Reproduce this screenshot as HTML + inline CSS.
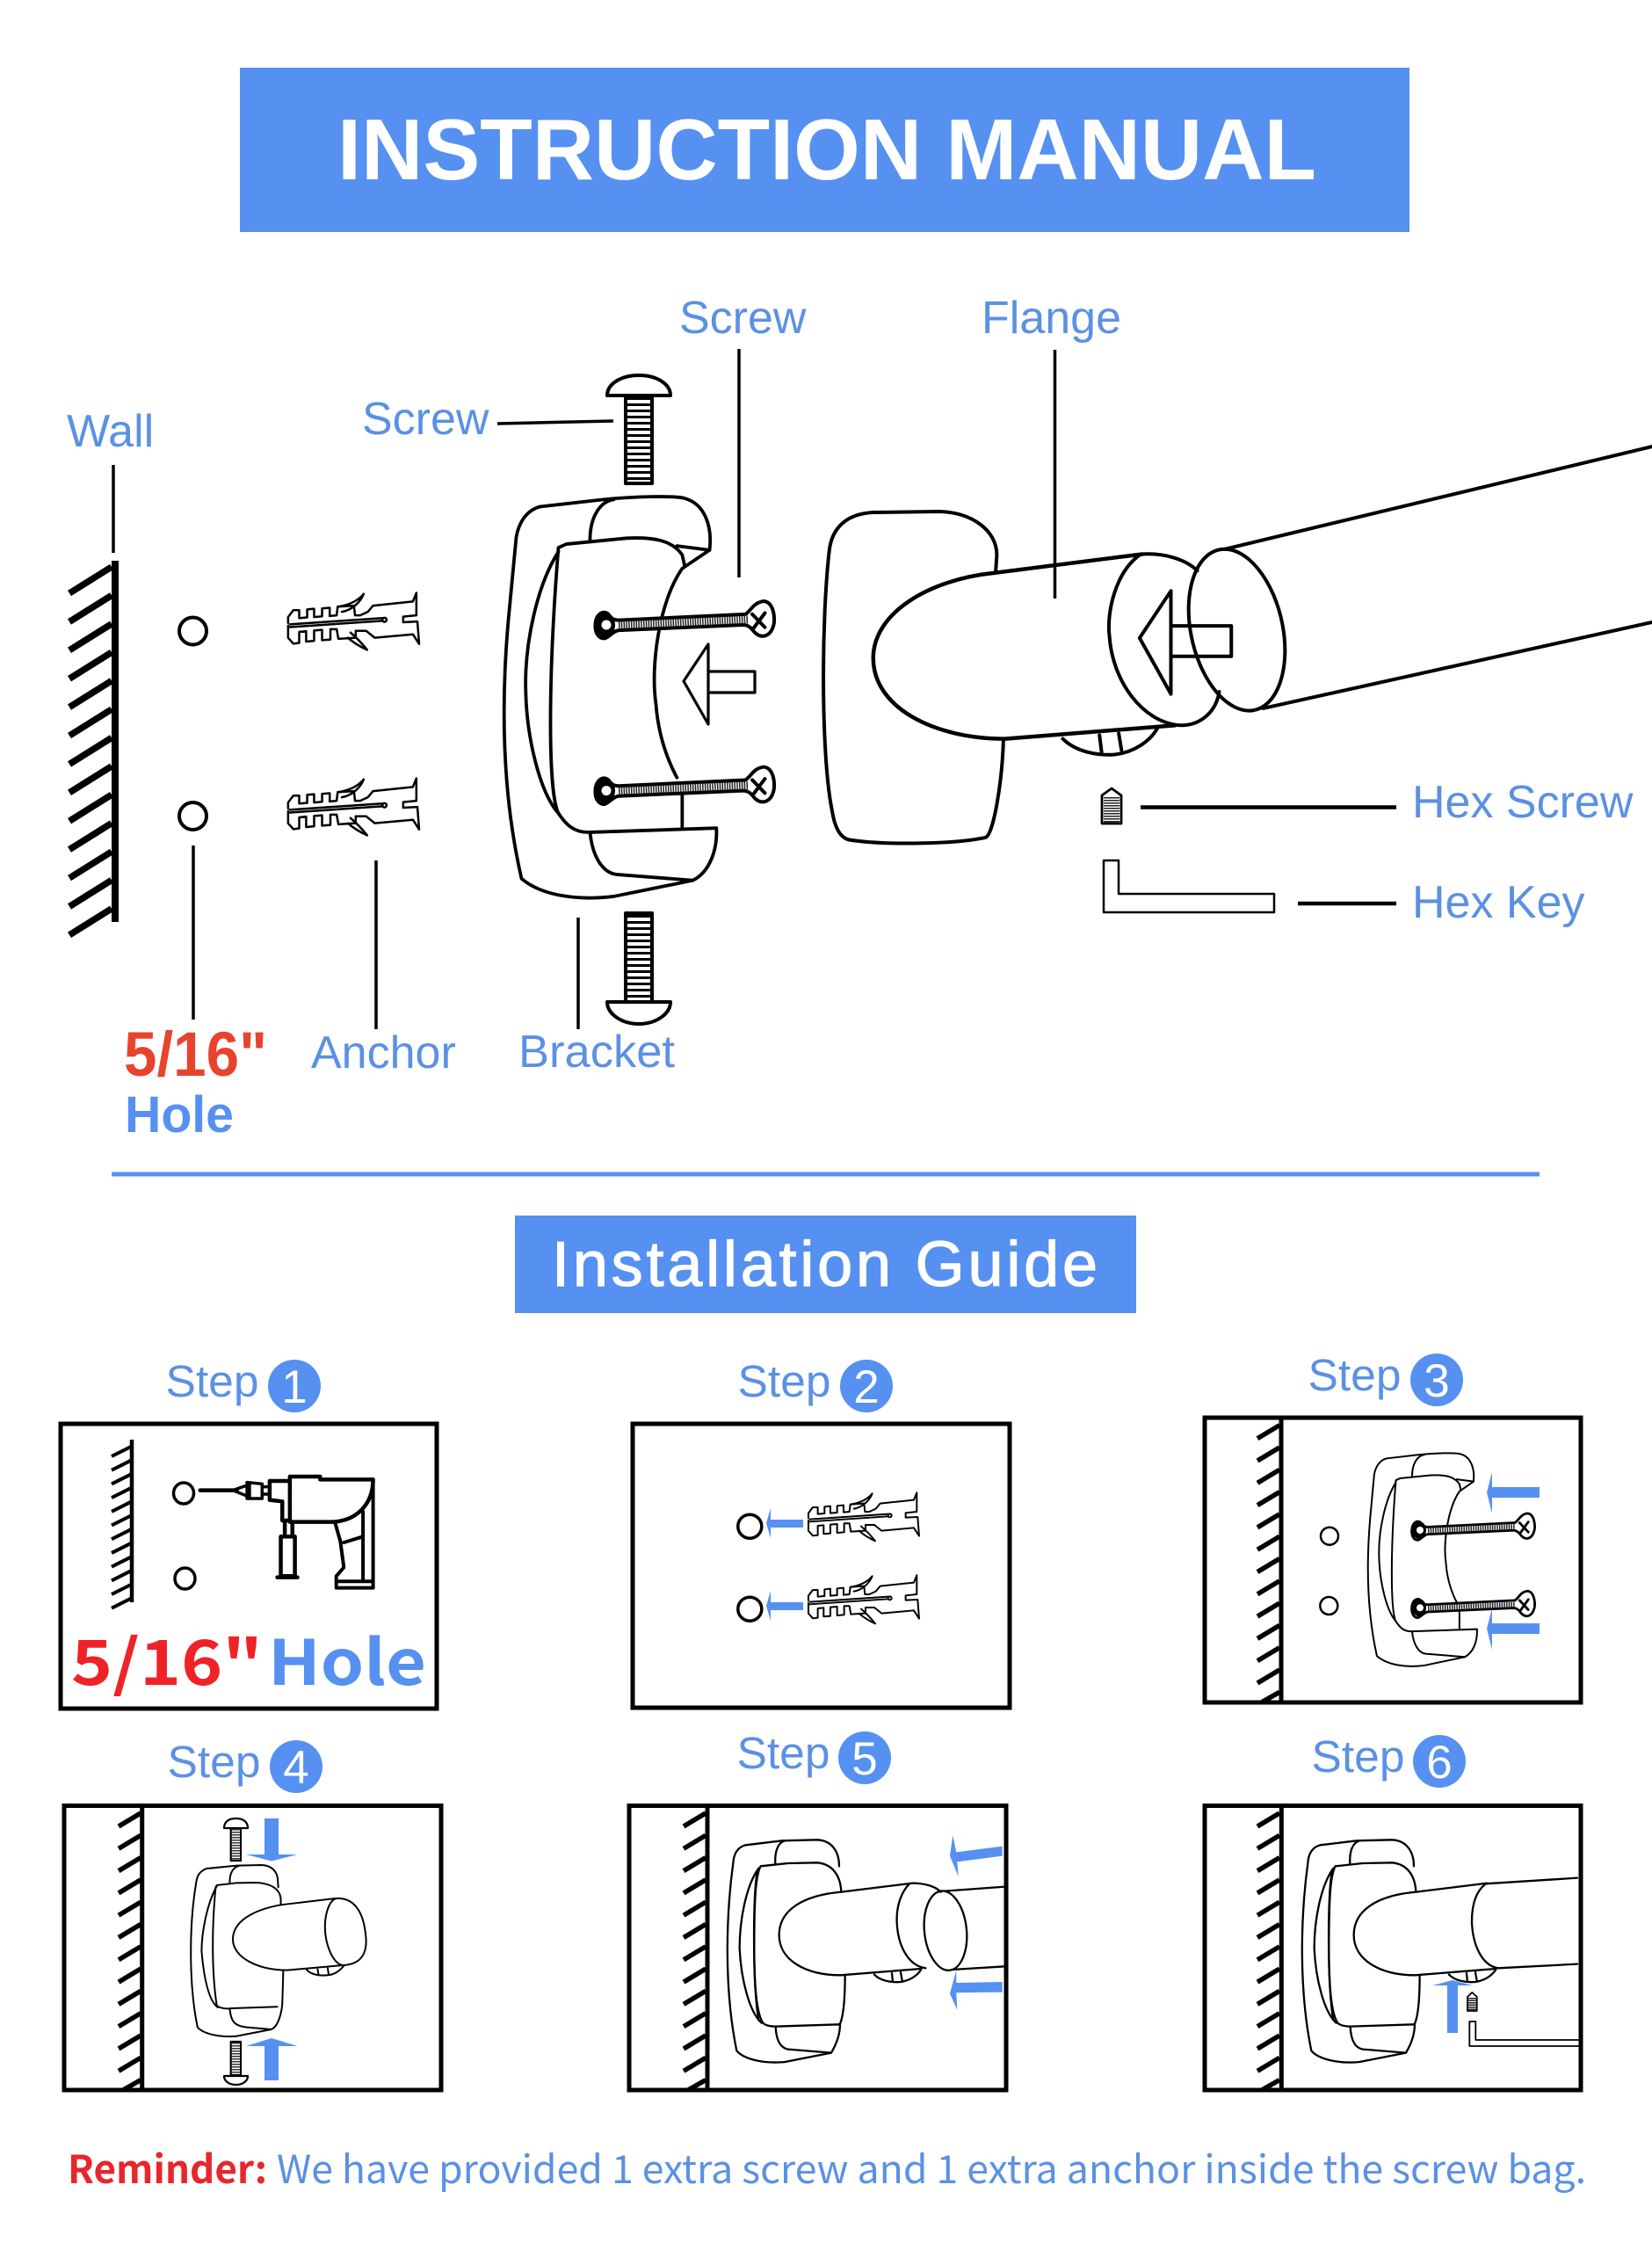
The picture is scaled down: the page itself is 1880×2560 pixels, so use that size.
<!DOCTYPE html>
<html lang="en"><head><meta charset="utf-8"><title>Instruction Manual</title>
<style>
html,body{margin:0;padding:0;background:#fff}
svg{display:block}
svg *{vector-effect:non-scaling-stroke}
.l{font-family:"Liberation Sans",sans-serif;font-size:52px;fill:#5b91e3}
.s{font-family:"Liberation Sans",sans-serif;font-size:51px;fill:#5b91e3}
.d{font-family:"Liberation Sans",sans-serif;font-size:53px;fill:#fff;text-anchor:middle}
.n{font-family:"Liberation Sans","Noto Sans CJK SC",sans-serif}
.c{font-family:"Noto Sans CJK SC","Liberation Sans",sans-serif}
.k{fill:none;stroke:#000;stroke-linecap:round;stroke-linejoin:round}
.b{fill:#5690f1;stroke:none}
</style></head><body>
<svg xmlns="http://www.w3.org/2000/svg" width="1880" height="2560" viewBox="0 0 1880 2560">
<defs>
<g id="hatch"><path d="M0 10L-25 25M0 35.300L-25 50.300M0 60.600L-25 75.600M0 85.900L-25 100.900M0 111.200L-25 126.200M0 136.500L-25 151.500M0 161.800L-25 176.800M0 187.100L-25 202.100M0 212.400L-25 227.400M0 237.700L-25 252.700M0 263L-25 278M0 288.300L-25 303.300M0 313.600L-20 325"/></g>
<g id="bracket">
<path d="M1025 409L1145 397C1200 392 1280 390 1300 395C1340 405 1352 445 1347 482L1295 513C1250 570 1235 680 1245 740C1250 800 1270 840 1285 865"/>
<path d="M1295 895L1295 950"/>
<path d="M1025 409C1000 415 985 435 980 460L965 600C950 750 955 900 990 1035C1030 1065 1100 1072 1165 1065L1315 1038C1345 1025 1362 990 1360 950L1120 957C1090 958 1075 945 1060 925C1040 890 1040 700 1060 478L1075 472L1190 462C1240 460 1275 465 1295 490L1300 510"/>
<path d="M1060 485C1020 540 995 640 998 720C1000 800 1025 890 1060 925"/>
<path d="M1120 957C1125 1000 1145 1025 1170 1028L1315 1038M1120 465C1120 425 1140 400 1165 397M1285 475L1347 482"/>
</g>
<g id="hscrew">
<path fill="#fff" d="M1130 610C1130 590 1145 582 1155 590C1160 597 1165 600 1175 600L1415 590C1425 585 1430 570 1450 568C1470 570 1472 600 1468 610C1462 628 1445 632 1432 620C1425 612 1420 608 1410 608L1175 617C1165 618 1160 625 1150 630C1140 633 1130 625 1130 610Z"/>
<path d="M1428 590L1452 612M1452 588L1430 614"/>
</g>
<g id="anchor">
<path d="M660 622L660 605L675 585L692 585L692 608L715 606L715 583L735 581L735 605L758 603L758 580L780 578L780 602L800 600L803 575L850 572L853 600L868 600L890 590L905 572L1020 560L1030 535L1030 600L992 604L992 620L1033 618L1038 683L1020 655L910 665L885 645"/>
<path d="M660 630L660 665L675 682L692 680L692 648L712 646L712 676L735 674L735 644L758 642L758 672L782 670L782 640L800 640L805 668L855 665L855 645L885 645"/>
<path d="M665 634L932 616M665 626L932 608"/>
<circle cx="938" cy="613" r="6"/>
<path d="M805 575C835 570 860 560 878 538C870 560 845 585 815 590M840 650C858 665 872 680 888 700C870 692 850 680 832 665"/>
</g>
<g id="front">
<path d="M445 418L570 403L690 400C740 402 765 440 765 490"/>
<path d="M445 418C420 425 405 445 403 480C380 650 370 900 415 1120C440 1150 510 1165 580 1158L738 1127C760 1090 768 1060 768 1030"/>
<path d="M497 490L590 480L690 478C740 482 770 520 772 578"/>
<path d="M490 497C445 560 425 680 425 770C430 880 460 990 500 1025"/>
<path d="M497 490C480 520 475 600 475 770C475 880 480 990 505 1025C515 1035 535 1037 550 1037L768 1030"/>
<path d="M485 510C470 600 470 900 490 1015"/>
<path d="M547 480C545 440 555 410 580 403M548 1037C550 1085 565 1110 590 1115L738 1127M785 862C785 950 780 1000 768 1028"/>
<path d="M772 578C640 590 560 640 560 725C560 810 650 862 770 862L1045 840M772 578L1015 548"/>
<path d="M885 860C905 880 940 888 975 885C1005 880 1030 865 1045 843M945 855L948 885M975 852L980 880"/>
</g>
</defs>

<!-- header -->
<rect x="273" y="77" width="1331" height="187" fill="#5690f1"/>
<text x="384" y="204" class="n" font-size="98" font-weight="700" fill="#fff" textLength="1114" lengthAdjust="spacingAndGlyphs">INSTRUCTION MANUAL</text>

<!-- main labels -->
<text x="76" y="508" class="l">Wall</text>
<text x="412" y="494" class="l">Screw</text>
<text x="773" y="379" class="l">Screw</text>
<text x="1117" y="379" class="l">Flange</text>
<text x="1607" y="930" class="l">Hex Screw</text>
<text x="1607" y="1044" class="l">Hex Key</text>
<text x="354" y="1215" class="l">Anchor</text>
<text x="590" y="1214" class="l" textLength="178" lengthAdjust="spacingAndGlyphs">Bracket</text>
<text x="141" y="1224" class="n" font-size="71" font-weight="700" fill="#e8432c" textLength="163" lengthAdjust="spacingAndGlyphs">5/16"</text>
<text x="142" y="1288" class="n" font-size="58" font-weight="700" fill="#5690f1" textLength="124" lengthAdjust="spacingAndGlyphs">Hole</text>

<!-- leaders -->
<g stroke="#000" stroke-width="3.500" fill="none">
<path d="M129 529V629M220 962V1160M428 979V1171M658 1044V1171M566 482L698 479M841 397V657M1200.500 398V681"/>
<path stroke-width="4.500" d="M1298 918.500H1589M1477 1028H1589"/>
</g>

<!-- wall -->
<path d="M131 638V1049" stroke="#000" stroke-width="8" fill="none"/>
<g stroke="#000" stroke-width="7.500" fill="none">
<path d="M127 645L79 675M127 677.400L79 707.400M127 709.800L79 739.800M127 742.200L79 772.200M127 774.600L79 804.600M127 807L79 837M127 839.400L79 869.400M127 871.800L79 901.800M127 904.200L79 934.200M127 936.600L79 966.600M127 969L79 999M127 1001.400L79 1031.400M127 1033.800L79 1063.800"/>
</g>
<g class="k" stroke-width="4"><circle cx="219.500" cy="718" r="15.500"/><circle cx="219.500" cy="928.500" r="15.500"/></g>

<!-- main anchors -->
<g class="k" stroke-width="2.500">
<use href="#anchor" transform="translate(67.500,464.300) scale(.3945,.393)"/>
<use href="#anchor" transform="translate(67.500,675.300) scale(.3945,.393)"/>
</g>

<!-- main vertical screws -->
<g class="k" stroke-width="4">
<path d="M691 450C691 436 708 427 727 427C746 427 763 436 763 450Z"/>
<path d="M712 450V550H742V450"/>
<path d="M712 1039H742V1140H712ZM691 1140C691 1154 708 1165 727 1165C746 1165 763 1154 763 1140Z"/>
</g>
<line x1="727" y1="452" x2="727" y2="549" stroke="#000" stroke-width="28" stroke-dasharray="3 4"/>
<line x1="727" y1="1041" x2="727" y2="1139" stroke="#000" stroke-width="28" stroke-dasharray="3 4"/>

<!-- main bracket -->
<g class="k" stroke-width="3.800"><use href="#bracket" transform="translate(0,300) scale(.5995,.676)"/></g>
<g class="k" stroke-width="4"><use href="#hscrew" transform="translate(0,300) scale(.5995,.676)"/><use href="#hscrew" transform="translate(0,488.600) scale(.5995,.676)"/></g>
<g stroke="#222" stroke-width="9" stroke-dasharray="1.500 1.300" fill="none">
<path d="M704 711L852 705M704 899.600L852 893.600"/>
</g>
<g>
<ellipse cx="689" cy="711" rx="11" ry="14" fill="#000"/><ellipse cx="690" cy="711" rx="5.500" ry="5.500" fill="#fff"/>
<ellipse cx="689" cy="899.600" rx="11" ry="14" fill="#000"/><ellipse cx="690" cy="899.600" rx="5.500" ry="5.500" fill="#fff"/>
</g>
<g class="k" stroke-width="3.200">
<path d="M806 733L778 775L806 824Z"/><path d="M807 764H859V788H807"/>
</g>

<!-- main flange -->
<g class="k" stroke-width="4" transform="translate(900,300) scale(.625,.51)">
<path d="M373 687L375 650C375 595 330 555 270 553L150 555C105 558 75 585 70 640C55 800 55 1100 75 1220C80 1260 90 1280 105 1285C170 1298 300 1295 355 1280C370 1270 385 1150 387 1063"/>
<path stroke-width="4.500" d="M640 648L370 690C250 705 150 780 150 880C150 990 260 1060 390 1060L700 1030"/>
<path d="M635 650C590 690 575 780 580 830C585 930 640 1025 710 1030C750 1030 775 995 780 955M640 648C680 645 720 660 740 685"/>
<path d="M692 730L635 835L692 960Z"/>
<path d="M695 808H802V876H695"/>
<ellipse cx="812" cy="817" rx="84" ry="182" transform="rotate(-9 812 817)"/>
<path d="M790 637L1568 408M860 992L1568 800"/>
<path d="M495 1060C520 1090 560 1098 590 1095C625 1090 655 1065 668 1035M562 1052L566 1092M597 1048L602 1085"/>
</g>
<!-- hex screw, key -->
<g class="k" stroke-width="2.800">
<path d="M1254 937V905L1265 897L1276 905V937Z"/>
<path d="M1256 979V1038H1450V1017H1273V979Z" stroke-width="2.500"/>
</g>
<line x1="1265" y1="907" x2="1265" y2="936" stroke="#222" stroke-width="18" stroke-dasharray="1.500 1.500"/>

<!-- divider -->
<rect x="127" y="1333.500" width="1625" height="5" fill="#5690f1"/>
<rect x="586" y="1383" width="707" height="111" fill="#5690f1"/>
<text x="628" y="1463" class="n" font-size="72" fill="#fff" stroke="#fff" stroke-width="1.200" textLength="621" lengthAdjust="spacing">Installation Guide</text>

<!-- step labels -->
<text x="188.500" y="1589" class="s" textLength="106" lengthAdjust="spacingAndGlyphs">Step</text><circle cx="335" cy="1577" r="30" fill="#5690f1"/><text x="335" y="1596" class="d">1</text>
<text x="839.500" y="1589" class="s" textLength="106" lengthAdjust="spacingAndGlyphs">Step</text><circle cx="986" cy="1577" r="30" fill="#5690f1"/><text x="986" y="1596" class="d">2</text>
<text x="1488.500" y="1582" class="s" textLength="106" lengthAdjust="spacingAndGlyphs">Step</text><circle cx="1635" cy="1570" r="30" fill="#5690f1"/><text x="1635" y="1589" class="d">3</text>
<text x="190.500" y="2022" class="s" textLength="106" lengthAdjust="spacingAndGlyphs">Step</text><circle cx="337" cy="2010" r="30" fill="#5690f1"/><text x="337" y="2029" class="d">4</text>
<text x="838.500" y="2012" class="s" textLength="106" lengthAdjust="spacingAndGlyphs">Step</text><circle cx="984" cy="2000" r="30" fill="#5690f1"/><text x="984" y="2019" class="d">5</text>
<text x="1492.500" y="2016" class="s" textLength="106" lengthAdjust="spacingAndGlyphs">Step</text><circle cx="1638" cy="2004" r="30" fill="#5690f1"/><text x="1638" y="2023" class="d">6</text>

<!-- step boxes -->
<g fill="none" stroke="#000" stroke-width="5">
<rect x="69" y="1620" width="428" height="324"/>
<rect x="720" y="1620" width="429" height="323"/>
<rect x="1371" y="1613" width="428" height="324"/>
<rect x="73" y="2054.500" width="429" height="323.500"/>
<rect x="716" y="2054.500" width="429" height="323.500"/>
<rect x="1371" y="2054.500" width="428" height="323.500"/>
</g>

<!-- step 1 -->
<path d="M150 1638V1823" stroke="#000" stroke-width="4.500" fill="none"/>
<g stroke="#000" stroke-width="4" fill="none">
<path d="M149 1646L127 1657M149 1661.700L127 1672.700M149 1677.400L127 1688.400M149 1693.100L127 1704.100M149 1708.800L127 1719.800M149 1724.500L127 1735.500M149 1740.200L127 1751.200M149 1755.900L127 1766.900M149 1771.600L127 1782.600M149 1787.300L127 1798.300M149 1803L127 1814M149 1818.700L127 1829.700"/>
</g>
<g class="k" stroke-width="3.500">
<ellipse cx="209" cy="1699" rx="11.500" ry="12"/><ellipse cx="210.500" cy="1796" rx="11.500" ry="12"/>
<g transform="translate(40,1520) scale(.574,.3333)">
<path stroke-width="4.500" d="M327 527H400"/>
<path d="M392 527L425 507V550ZM420 500L450 505V555L420 555ZM450 515H465V540H450"/>
<path stroke-width="4.500" d="M465 495H505V480L565 480V490H670C670 570 640 630 590 635H505V495M465 495V560L490 565V630H505M495 635V685M510 635V685M487 685H515V820H487ZM480 824H520"/>
<path stroke-width="4" d="M670 490V860H597V820L612 790L605 700L595 640M650 600V838M597 838H670M612 705L650 685"/>
</g>
</g>
<text x="81" y="1917" class="c" font-size="71" font-weight="700" fill="#ee2328" textLength="218" lengthAdjust="spacingAndGlyphs">5/16"</text>
<text x="305" y="1917" class="c" font-size="71" font-weight="700" fill="#5690f1" textLength="180" lengthAdjust="spacingAndGlyphs">Hole</text>

<!-- step 2 -->
<g class="k" stroke-width="3.500"><circle cx="853.300" cy="1736.700" r="13.500"/><circle cx="853.300" cy="1830.700" r="13.500"/></g>
<g class="k" stroke-width="2"><use href="#anchor" transform="translate(700,1520) scale(.3333)"/><use href="#anchor" transform="translate(700,1614) scale(.3333)"/></g>
<path class="b" d="M872 1733L877 1716V1729H914V1738H877V1750Z"/>
<path class="b" d="M872 1827L877 1810V1823H914V1832H877V1844Z"/>

<!-- step 3 -->
<path d="M1458 1612V1937" stroke="#000" stroke-width="5" fill="none"/>
<g stroke="#000" stroke-width="5.500" fill="none"><use href="#hatch" transform="translate(1456,1611.700)"/></g>
<g class="k" stroke-width="2.500"><circle cx="1513" cy="1747.700" r="10"/><circle cx="1512.300" cy="1827" r="10"/></g>
<g class="k" stroke-width="2"><use href="#bracket" transform="translate(1262,1512.600) scale(.308,.359)"/></g>
<g class="k" stroke-width="2.800"><use href="#hscrew" transform="translate(1141,1447) scale(.412,.484)"/><use href="#hscrew" transform="translate(1141,1535.300) scale(.412,.484)"/></g>
<g stroke="#222" stroke-width="5.500" stroke-dasharray="1.500 1.200" fill="none"><path d="M1625 1741.500L1724 1737M1625 1829.800L1724 1825.300"/></g>
<ellipse cx="1615" cy="1741" rx="8" ry="10" fill="#000"/><ellipse cx="1616" cy="1741" rx="4" ry="4" fill="#fff"/>
<ellipse cx="1615" cy="1829.300" rx="8" ry="10" fill="#000"/><ellipse cx="1616" cy="1829.300" rx="4" ry="4" fill="#fff"/>
<path class="b" d="M1692 1698L1698 1675V1692H1752V1704H1698V1722Z"/>
<path class="b" d="M1692 1853L1698 1830V1847H1752V1859H1698V1877Z"/>

<!-- step 4 -->
<path d="M161.700 2053V2378" stroke="#000" stroke-width="5" fill="none"/>
<g stroke="#000" stroke-width="5.500" fill="none"><use href="#hatch" transform="translate(160,2053)"/></g>
<g class="k" stroke-width="2.200">
<path d="M255 2080C255 2073 260 2069 268.500 2069C277 2069 282 2073 282 2080ZM262.700 2080V2117H274V2080"/>
<path d="M262.700 2323H274V2361H262.700ZM255 2362C255 2368 261 2372 268.500 2372C276 2372 282 2368 282 2362Z"/>
</g>
<line x1="268.300" y1="2081" x2="268.300" y2="2116" stroke="#333" stroke-width="9" stroke-dasharray="1.500 1.500"/>
<line x1="268.300" y1="2324" x2="268.300" y2="2360" stroke="#333" stroke-width="9" stroke-dasharray="1.500 1.500"/>
<path class="b" d="M301 2069H317V2110H338.500L309 2117.500L280 2110H301Z"/>
<path class="b" d="M301 2367H317V2328H338.500L309 2319L280 2328H301Z"/>
<g class="k" stroke-width="2" transform="translate(40,1960) scale(.574,.3333)">
<path d="M340 498L400 488L450 486C470 488 480 510 481 535L482 562"/>
<path d="M340 498C322 510 320 530 318 560C305 700 305 900 322 1040C335 1065 370 1075 400 1070L468 1047C480 1040 488 1000 490 960L492 845"/>
<path d="M360 555L400 547L440 546C470 550 485 570 487 600L487 622"/>
<path d="M360 558C340 620 330 720 330 780C335 880 345 950 362 972M358 560C350 700 350 850 360 965C365 975 380 978 390 975L480 970"/>
<path d="M386 978C388 1020 395 1035 420 1040L468 1047M386 550C385 520 390 495 405 488"/>
<path d="M487 622C430 640 392 680 392 740C392 800 440 845 500 845L610 828M487 622L595 600C630 595 650 640 655 720C660 780 650 825 610 828C590 825 572 750 575 680C577 640 585 605 597 600"/>
<path d="M538 842C545 860 565 865 580 862C595 860 605 845 612 830M560 842L562 862M580 838L582 860"/>
</g>

<!-- step 5 -->
<path d="M805 2053V2378" stroke="#000" stroke-width="5" fill="none"/>
<g stroke="#000" stroke-width="5.500" fill="none"><use href="#hatch" transform="translate(803,2053)"/></g>
<g class="k" stroke-width="2.300" transform="translate(700,1960) scale(.3333)">
<use href="#front"/>
<path d="M1005 550C975 580 960 630 962 680C965 760 1000 830 1060 838M1015 548C1060 548 1095 560 1112 578"/>
<ellipse cx="1128" cy="710" rx="72" ry="136" transform="rotate(-6 1128 710)"/>
<path d="M1125 575L1332 560M1150 843L1332 832"/>
</g>
<g transform="translate(700,1960) scale(.3333)">
<path class="b" d="M1143 455L1153 385L1165 442L1322 422V455L1168 475L1172 525Z"/>
<path class="b" d="M1143 925L1165 845V888L1322 885V920L1165 922L1168 980Z"/>
</g>

<!-- step 6 -->
<path d="M1458.300 2053V2378" stroke="#000" stroke-width="5" fill="none"/>
<g stroke="#000" stroke-width="5.500" fill="none"><use href="#hatch" transform="translate(1456,2053)"/></g>
<g class="k" stroke-width="2.300" transform="translate(1354,1960) scale(.3333)">
<use href="#front"/>
</g>
<g class="k" stroke-width="2.300" transform="translate(1340,1960) scale(.3333)">
<path d="M1050 552C1015 580 1005 630 1005 680C1008 760 1040 830 1095 838M1050 550L1365 530M1095 838L1365 824"/>
</g>
<path class="b" d="M1647 2313V2259H1630L1653 2253L1676 2259H1659V2313Z"/>
<g class="k" stroke-width="1.800">
<path d="M1670 2288V2272L1675.300 2267L1680.700 2272V2288Z"/>
<path d="M1799 2321H1679.300V2300H1672.300V2328H1799"/>
</g>
<line x1="1675.300" y1="2273" x2="1675.300" y2="2288" stroke="#222" stroke-width="9" stroke-dasharray="1.500 1"/>

<!-- reminder -->
<text x="77" y="2484" class="c" font-size="44" font-weight="700" fill="#e8262b" textLength="227" lengthAdjust="spacingAndGlyphs">Reminder:</text>
<text x="315" y="2484" class="c" font-size="44" fill="#5b91e3" textLength="1490" lengthAdjust="spacingAndGlyphs">We have provided 1 extra screw and 1 extra anchor inside the screw bag.</text>
</svg>
</body></html>
